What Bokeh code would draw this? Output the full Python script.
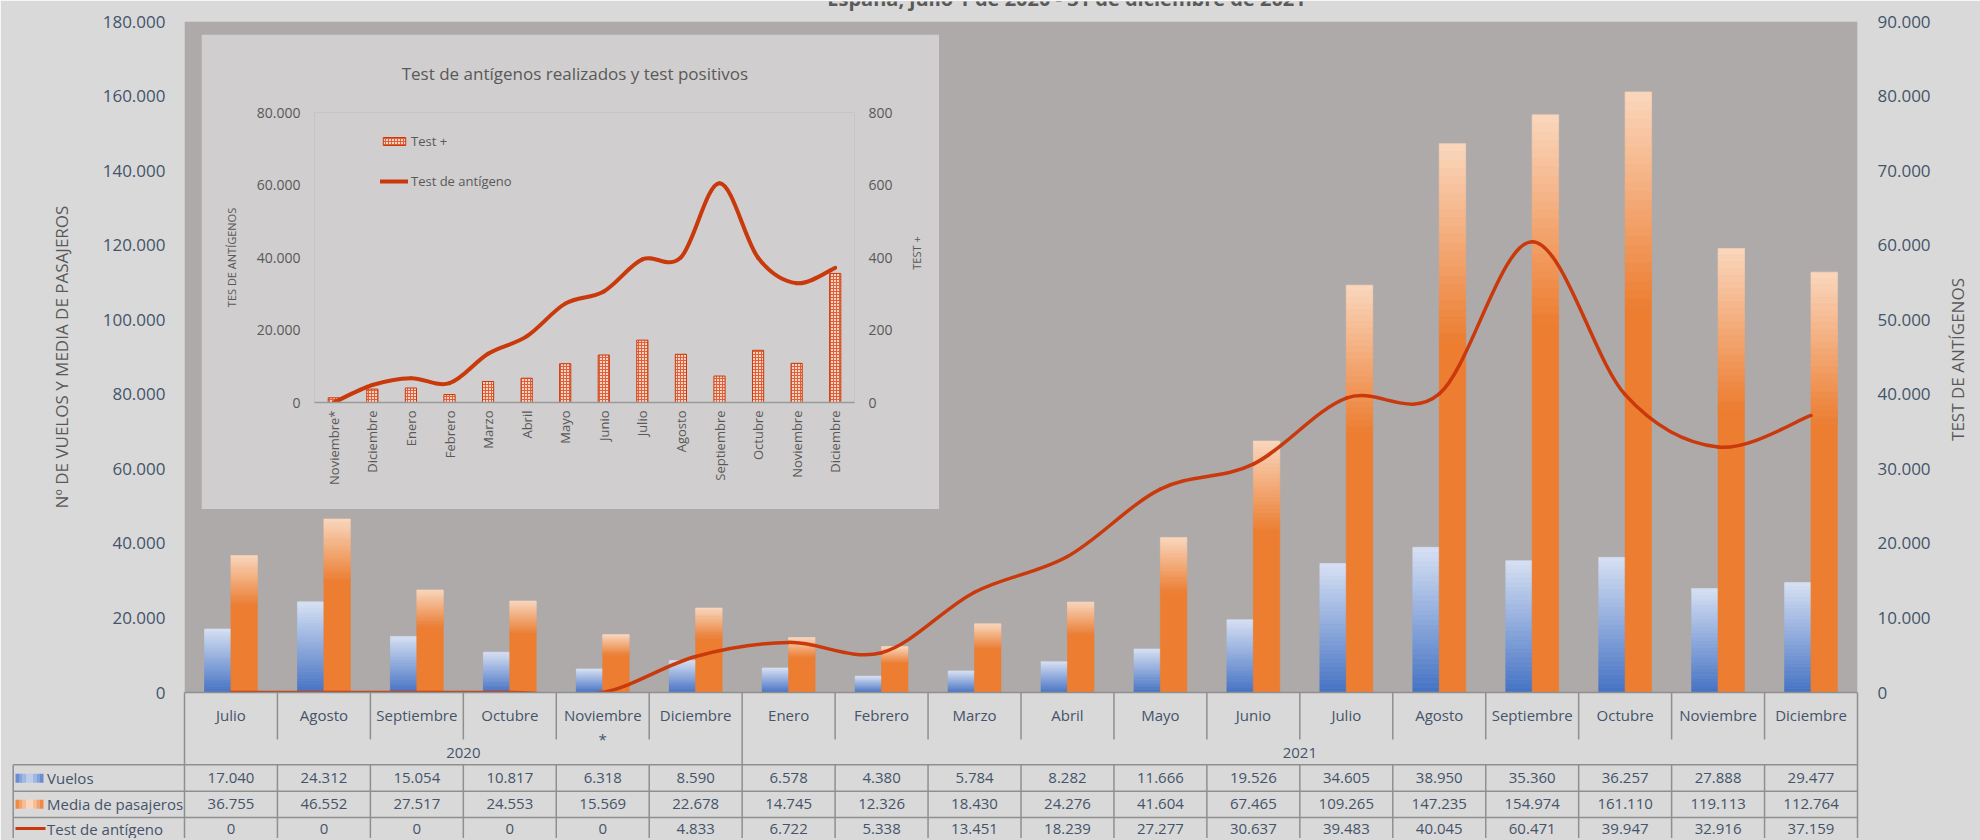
import numpy as np
from math import pi
from bokeh.plotting import figure
from bokeh.models import (Range1d, LinearAxis, FixedTicker, ColumnDataSource,
                          Legend, LegendItem, GridBox)
from bokeh.core.properties import value
from bokeh.embed import file_html
from bokeh.resources import INLINE

# ---------------- data ----------------
months = ["Julio", "Agosto", "Septiembre", "Octubre", "Noviembre\n*", "Diciembre",
          "Enero", "Febrero", "Marzo", "Abril", "Mayo", "Junio", "Julio", "Agosto",
          "Septiembre", "Octubre", "Noviembre", "Diciembre"]
year_labels = ["2020", "2021"]
year_spans = [6, 12]
vuelos = [17040, 24312, 15054, 10817, 6318, 8590, 6578, 4380, 5784, 8282, 11666, 19526,
          34605, 38950, 35360, 36257, 27888, 29477]
pasajeros = [36755, 46552, 27517, 24553, 15569, 22678, 14745, 12326, 18430, 24276, 41604,
             67465, 109265, 147235, 154974, 161110, 119113, 112764]
test_antigeno = [0, 0, 0, 0, 0, 4833, 6722, 5338, 13451, 18239, 27277, 30637, 39483, 40045,
                 60471, 39947, 32916, 37159]
series_names = ["Vuelos", "Media de pasajeros", "Test de antígeno"]

inset_months = ["Noviembre*", "Diciembre", "Enero", "Febrero", "Marzo", "Abril", "Mayo", "Junio",
                "Julio", "Agosto", "Septiembre", "Octubre", "Noviembre", "Diciembre"]
test_positivos = [13, 37, 40, 22, 58, 67, 107, 131, 172, 133, 73, 144, 108, 356]
inset_antigeno = test_antigeno[4:]

left_ticks = [0, 20000, 40000, 60000, 80000, 100000, 120000, 140000, 160000, 180000]
right_ticks = [0, 10000, 20000, 30000, 40000, 50000, 60000, 70000, 80000, 90000]
inset_left_ticks = [0, 20000, 40000, 60000, 80000]
inset_right_ticks = [0, 200, 400, 600, 800]

title_text = "España, julio 1 de 2020 - 31 de diciembre de 2021"
inset_title = "Test de antígenos realizados y test positivos"
left_title = "Nº DE VUELOS Y MEDIA DE PASAJEROS"
right_title = "TEST DE ANTÍGENOS"
inset_left_title = "TES DE ANTÍGENOS"
inset_right_title = "TEST +"

# ---------------- style ----------------
FONT = "Open Sans"
SLATE = "#44546a"
GREY = "#595959"
RED = "#c9390c"
BLUE_DARK, BLUE_LIGHT = "#4472c4", "#d7e1f4"
ORANGE, ORANGE_LIGHT = "#ed7d31", "#fad7bd"
GRID = "#8f8f8f"
PAGE_BG = "#d9d9d9"


def mix(c1, c2, t):
    a = [int(c1[i:i + 2], 16) for i in (1, 3, 5)]
    b = [int(c2[i:i + 2], 16) for i in (1, 3, 5)]
    return "#%02x%02x%02x" % tuple(round(a[j] + (b[j] - a[j]) * t) for j in range(3))


def fmt(v):
    return f"{v:,}".replace(",", ".")


def smooth_source(xs, ys):
    n = len(xs)
    d = dict(x0=[], y0=[], x1=[], y1=[], cx0=[], cy0=[], cx1=[], cy1=[])
    for i in range(n - 1):
        a, b = max(i - 1, 0), min(i + 2, n - 1)
        d["x0"].append(xs[i]); d["y0"].append(ys[i])
        d["x1"].append(xs[i + 1]); d["y1"].append(ys[i + 1])
        d["cx0"].append(xs[i] + (xs[i + 1] - xs[a]) / 6)
        d["cy0"].append(ys[i] + (ys[i + 1] - ys[a]) / 6)
        d["cx1"].append(xs[i + 1] - (xs[b] - xs[i]) / 6)
        d["cy1"].append(ys[i + 1] - (ys[b] - ys[i]) / 6)
    return ColumnDataSource(d)


def bare_axis(ax):
    ax.major_tick_out = 0
    ax.major_tick_in = 0
    ax.minor_tick_out = 0
    ax.minor_tick_in = 0


def overlay(x0, x1, y0, y1, xr=None):
    """Transparent figure covering page box x0..x1, y0..y1 (y measured downward as -y)."""
    f = figure(width=x1 - x0, height=y1 - y0, x_range=xr or Range1d(x0, x1),
               y_range=Range1d(-y1, -y0), output_backend="svg", title=None,
               toolbar_location=None, x_axis_location=None, y_axis_location=None,
               min_border=0, background_fill_color=None, border_fill_color=None,
               outline_line_color=None)
    f.xgrid.visible = False
    f.ygrid.visible = False
    return f


# ---------------- main figure ----------------
FIG_W, FIG_H = 1980, 840
B_L, B_R, B_T, B_B = 184, 123, 21, 148
n = len(months)
COLW = (FIG_W - B_L - B_R) / n
TOP = FIG_H - B_B  # page y of the plot-area bottom (692)


def xpage(px):  # page x -> category units (layout only)
    return (px - B_L) / COLW - 0.5


p = figure(width=FIG_W, height=FIG_H, x_range=Range1d(-0.5, n - 0.5), y_range=Range1d(0, 180000),
           output_backend="svg", toolbar_location=None,
           min_border_left=B_L, min_border_right=B_R, min_border_top=B_T, min_border_bottom=B_B,
           background_fill_color="#aeaaaa", border_fill_color=PAGE_BG, outline_line_color=None)
p.extra_y_ranges = {"ant": Range1d(0, 90000)}
p.xgrid.visible = False
p.ygrid.visible = False

ya = p.yaxis[0]
ya.ticker = FixedTicker(ticks=left_ticks)
ya.major_label_overrides = {t: fmt(t) for t in left_ticks}
ya.major_label_text_font = FONT
ya.major_label_text_font_size = "17px"
ya.major_label_text_color = SLATE
ya.major_label_standoff = 19
bare_axis(ya)
ya.axis_line_color = None
ya.axis_label = left_title
ya.axis_label_text_font = FONT
ya.axis_label_text_font_size = "17px"
ya.axis_label_text_font_style = "normal"
ya.axis_label_text_color = GREY
ya.axis_label_standoff = 27

yr = LinearAxis(y_range_name="ant", ticker=FixedTicker(ticks=right_ticks),
                major_label_overrides={t: fmt(t) for t in right_ticks},
                major_label_text_font=FONT, major_label_text_font_size="17px",
                major_label_text_color=SLATE, major_label_standoff=20,
                axis_line_color=None)
bare_axis(yr)
p.add_layout(yr, "right")

xa = p.xaxis[0]
xa.ticker = FixedTicker(ticks=list(range(n)))
xa.major_label_overrides = {i: m for i, m in enumerate(months)}
xa.major_label_text_font = FONT
xa.major_label_text_font_size = "15px"
xa.major_label_text_color = SLATE
xa.major_label_standoff = 12
bare_axis(xa)
xa.axis_line_color = GRID
xa.axis_line_width = 1.5

# bars with vertical gradients (drawn as slices of each bar)
x = np.arange(n, dtype=float)
vu = np.array(vuelos, dtype=float)
pa = np.array(pasajeros, dtype=float)
BW, OFF = 0.285, 0.142
NB = 30
for k in range(NB):
    f0, f1 = k / NB, (k + 1) / NB
    c = mix(BLUE_DARK, BLUE_LIGHT, (k + 0.5) / NB)
    p.vbar(x=x - OFF, bottom=vu * f0, top=vu * f1, width=BW, fill_color=c,
           line_color=c, line_width=0.6)
SOLID = 0.64
p.vbar(x=x + OFF, bottom=0, top=pa * SOLID, width=BW, fill_color=ORANGE,
       line_color=ORANGE, line_width=0.6)
NO = 24
for k in range(NO):
    f0 = SOLID + (1 - SOLID) * k / NO
    f1 = SOLID + (1 - SOLID) * (k + 1) / NO
    c = mix(ORANGE, ORANGE_LIGHT, (k + 0.5) / NO)
    p.vbar(x=x + OFF, bottom=pa * f0, top=pa * f1, width=BW, fill_color=c,
           line_color=c, line_width=0.6)

p.bezier(x0="x0", y0="y0", x1="x1", y1="y1", cx0="cx0", cy0="cy0", cx1="cx1", cy1="cy1",
         source=smooth_source(list(x), test_antigeno), y_range_name="ant",
         line_color=RED, line_width=3.5, line_cap="round")

# ---------------- title strip (cut at the top, as in the reference) ----------------
HB = (2, 1978, 1, 20)
head = overlay(*HB)
head.text(x=[1066], y=[2], text=[title_text], text_align="center", text_baseline="alphabetic",
          text_font=value(FONT), text_font_size=value("20px"), text_font_style="bold",
          text_color=GREY)

# right axis title, reading upwards
RB = (1942, 1972, 240, 480)
rt = overlay(*RB)
rt.text(x=[1957], y=[-359], text=[right_title], angle=pi / 2, text_align="center",
        text_baseline="middle", text_font=value(FONT), text_font_size=value("17px"),
        text_color=GREY)

# ---------------- data table under the chart ----------------
TB = (2, 1978, TOP, 838)
tbl = overlay(*TB, xr=Range1d(xpage(TB[0]), xpage(TB[1])))


def ty(py):  # page y -> table units (layout only)
    return -py


ROW_Y = [ty(777.8), ty(803.8), ty(828.0)]
LINE_Y = [ty(764.3), ty(790.8), ty(817.0)]
X_TABLE_L = xpage(12.7)

segs = dict(x0=[], y0=[], x1=[], y1=[])
for yy in LINE_Y:
    segs["x0"].append(X_TABLE_L); segs["x1"].append(n - 0.5)
    segs["y0"].append(yy); segs["y1"].append(yy)
for xx in [X_TABLE_L] + [k - 0.5 for k in range(n + 1)]:
    segs["x0"].append(xx); segs["x1"].append(xx)
    segs["y0"].append(LINE_Y[0]); segs["y1"].append(ty(FIG_H + 10))
bounds = [0]
for s in year_spans:
    bounds.append(bounds[-1] + s)
for k in range(n + 1):
    full = k in bounds
    segs["x0"].append(k - 0.5); segs["x1"].append(k - 0.5)
    segs["y0"].append(ty(TOP - 2)); segs["y1"].append(LINE_Y[0] if full else ty(739))
tbl.segment(x0="x0", y0="y0", x1="x1", y1="y1", source=ColumnDataSource(segs),
            line_color=GRID, line_width=1.5)

ycent = [(bounds[i] + bounds[i + 1] - 1) / 2 for i in range(len(year_spans))]
tbl.text(x=ycent, y=[ty(752.7)] * len(ycent), text=year_labels, text_align="center",
         text_baseline="middle", text_font=value(FONT), text_font_size=value("15px"),
         text_color=SLATE)

tx, tyy, tt = [], [], []
for r, series in enumerate([vuelos, pasajeros, test_antigeno]):
    for i, v in enumerate(series):
        tx.append(i); tyy.append(ROW_Y[r]); tt.append(fmt(v))
tbl.text(x=tx, y=tyy, text=tt, text_align="center", text_baseline="middle",
         text_font=value(FONT), text_font_size=value("15px"), text_color=SLATE)

tbl.text(x=[xpage(46.5)] * 3, y=ROW_Y, text=series_names, text_align="left",
         text_baseline="middle", text_font=value(FONT), text_font_size=value("15px"),
         text_color=SLATE)
NK = 8
for k in range(NK):
    t = abs((k + 0.5) / NK - 0.5) * 2
    tbl.segment(x0=[xpage(15 + 28 * k / NK)], x1=[xpage(15 + 28 * (k + 1) / NK)],
                y0=[ROW_Y[0]], y1=[ROW_Y[0]], line_color=mix("#c9d6f0", "#5b83cc", t),
                line_width=9, line_cap="butt")
    tbl.segment(x0=[xpage(15 + 28 * k / NK)], x1=[xpage(15 + 28 * (k + 1) / NK)],
                y0=[ROW_Y[1]], y1=[ROW_Y[1]], line_color=mix("#fbe3d2", ORANGE, t),
                line_width=9, line_cap="butt")
tbl.segment(x0=[xpage(15)], x1=[xpage(45)], y0=[ROW_Y[2]], y1=[ROW_Y[2]],
            line_color=RED, line_width=3, line_cap="butt")

# ---------------- inset figure ----------------
IX, IY, IW, IH = 201, 34, 738, 475
ni = len(inset_months)
q = figure(width=IW, height=IH, x_range=Range1d(-0.5, ni - 0.5), y_range=Range1d(0, 80000),
           output_backend="svg", toolbar_location=None,
           min_border_left=113, min_border_right=85, min_border_top=78, min_border_bottom=107,
           background_fill_color="#d0cece", border_fill_color="#d0cece", outline_line_color=None)
q.extra_y_ranges = {"pos": Range1d(0, 800)}
q.xgrid.visible = False
q.ygrid.visible = False

qa = q.yaxis[0]
qa.ticker = FixedTicker(ticks=inset_left_ticks)
qa.major_label_overrides = {t: fmt(t) for t in inset_left_ticks}
qa.major_label_text_font = FONT
qa.major_label_text_font_size = "14px"
qa.major_label_text_color = GREY
qa.major_label_standoff = 14
bare_axis(qa)
qa.axis_line_color = None
qa.axis_label = inset_left_title
qa.axis_label_text_font = FONT
qa.axis_label_text_font_size = "11px"
qa.axis_label_text_font_style = "normal"
qa.axis_label_text_color = GREY
qa.axis_label_standoff = 15

qr = LinearAxis(y_range_name="pos", ticker=FixedTicker(ticks=inset_right_ticks),
                major_label_text_font=FONT, major_label_text_font_size="14px",
                major_label_text_color=GREY, major_label_standoff=14,
                axis_line_color=None)
bare_axis(qr)
q.add_layout(qr, "right")

qx = q.xaxis[0]
qx.ticker = FixedTicker(ticks=list(range(ni)))
qx.major_label_overrides = {i: m for i, m in enumerate(inset_months)}
qx.major_label_orientation = pi / 2
qx.major_label_text_font = FONT
qx.major_label_text_font_size = "13px"
qx.major_label_text_color = GREY
qx.major_label_standoff = 8
bare_axis(qx)
qx.axis_line_color = "#9a9a9a"
qx.axis_line_width = 1.5

xi = list(range(ni))
rbar = q.vbar(x=xi, top=test_positivos, width=0.29, y_range_name="pos",
              fill_color="#f7d3c3", hatch_pattern="cross", hatch_color="#e0603a",
              hatch_scale=3, hatch_weight=1, line_color=RED, line_width=1)
rline = q.bezier(x0="x0", y0="y0", x1="x1", y1="y1", cx0="cx0", cy0="cy0", cx1="cx1", cy1="cy1",
                 source=smooth_source(xi, inset_antigeno), line_color=RED, line_width=4,
                 line_cap="round")

leg = Legend(items=[LegendItem(label="Test +", renderers=[rbar]),
                    LegendItem(label="Test de antígeno", renderers=[rline])],
             location=(66, 211), orientation="vertical", padding=0, margin=0, spacing=20,
             glyph_width=28, glyph_height=10, label_standoff=3, label_height=20,
             label_text_font=FONT, label_text_font_size="13px", label_text_color=GREY,
             background_fill_alpha=0, border_line_color=None)
q.add_layout(leg)

# inset title strip
QB = (IX + 1, IX + IW - 1, IY + 1, 111)
qt = overlay(*QB)
qt.text(x=[574.4], y=[-73.3], text=[inset_title], text_align="center",
        text_baseline="middle", text_font=value(FONT), text_font_size=value("17px"),
        text_color=GREY)

# inset right axis title, reading upwards
QRB = (905, 926, 215, 290)
qrt = overlay(*QRB)
qrt.text(x=[915.6], y=[-252.5], text=[inset_right_title], angle=pi / 2, text_align="center",
         text_baseline="middle", text_font=value(FONT), text_font_size=value("11px"),
         text_color=GREY)

# ---------------- compose: overlapping grid cells on distinct grid lines ----------------
boxes = [(p, (0, FIG_W, 0, FIG_H)), (q, (IX, IX + IW, IY, IY + IH)), (qt, QB), (qrt, QRB),
         (head, HB), (rt, RB), (tbl, TB)]
xs_lines = sorted({v for _, b in boxes for v in b[:2]})
ys_lines = sorted({v for _, b in boxes for v in b[2:]})
cols = [f"{b - a}px" for a, b in zip(xs_lines[:-1], xs_lines[1:])]
rows = [f"{b - a}px" for a, b in zip(ys_lines[:-1], ys_lines[1:])]


def cell(model, box):
    x0, x1, y0, y1 = box
    r0, r1 = ys_lines.index(y0), ys_lines.index(y1)
    c0, c1 = xs_lines.index(x0), xs_lines.index(x1)
    return (model, r0, c0, r1 - r0, c1 - c0)


layout = GridBox(children=[cell(m, b) for m, b in boxes], rows=rows, cols=cols)

open("out.html", "w").write(file_html(layout, INLINE))
